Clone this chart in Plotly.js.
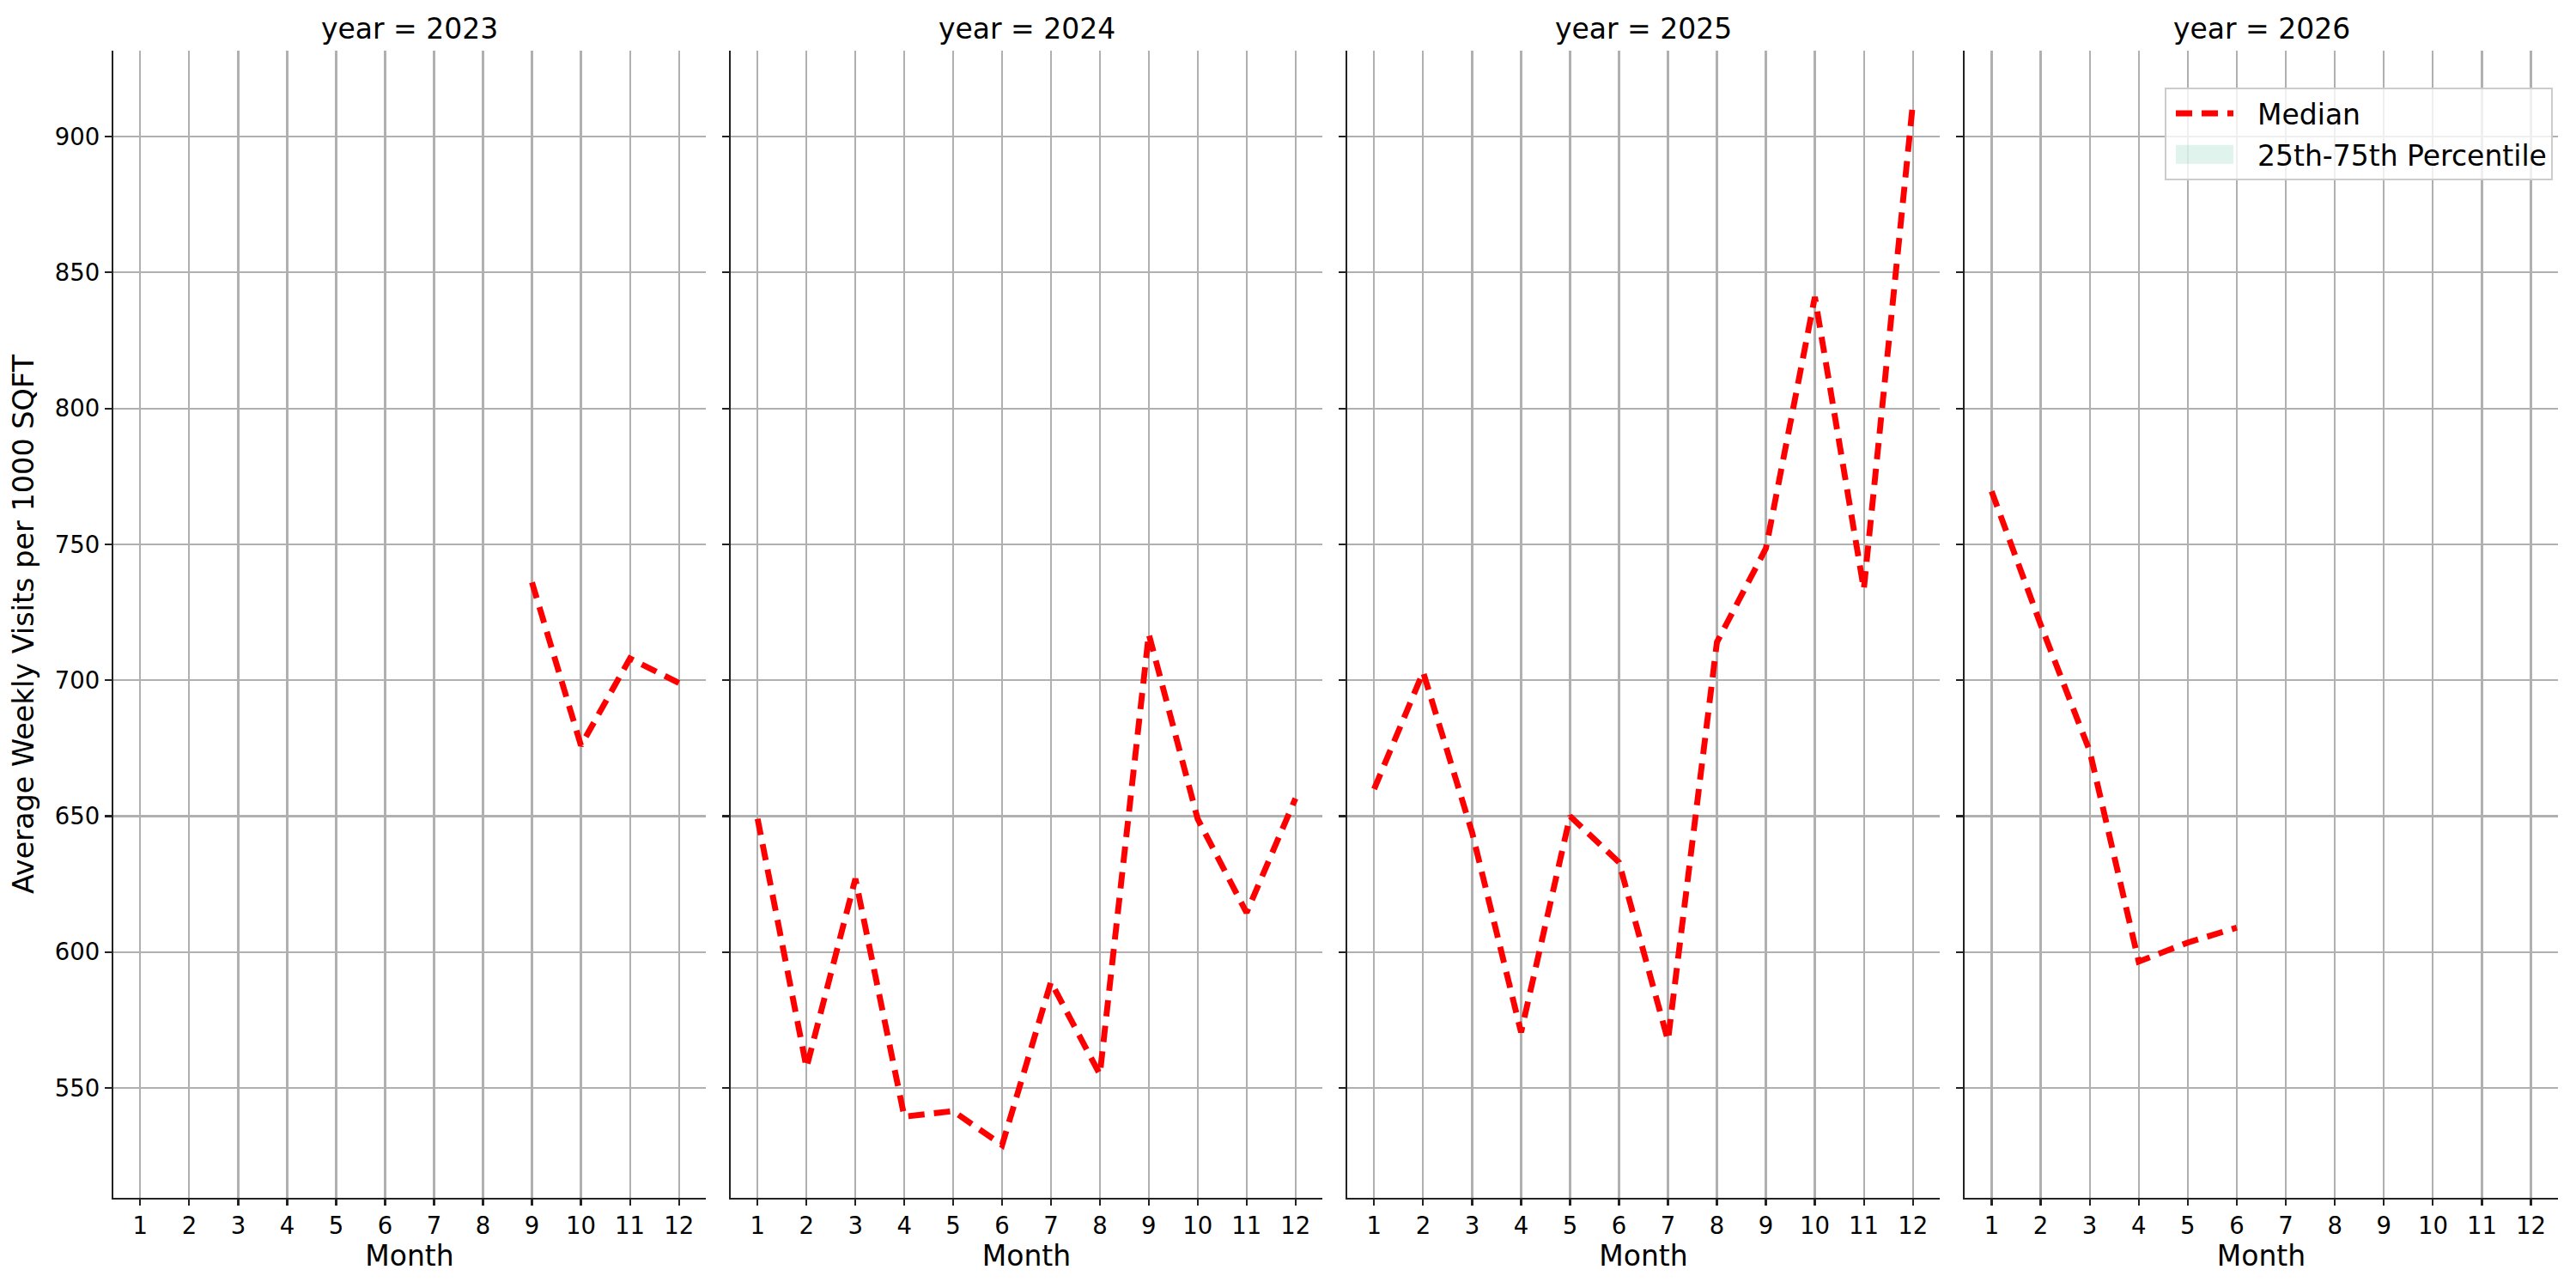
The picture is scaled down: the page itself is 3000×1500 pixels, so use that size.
<!DOCTYPE html>
<html>
<head>
<meta charset="utf-8">
<script src="https://cdn.plot.ly/plotly-3.0.1.min.js"></script>
<style>
html,body{margin:0;padding:0;background:#fff;}
#chart{width:3000px;height:1500px;}
</style>
</head>
<body>
<div id="chart"></div>
<script>
// ---- data ----
const months = [1, 2, 3, 4, 5, 6, 7, 8, 9, 10, 11, 12];
const years = [2023, 2024, 2025, 2026];
const median2023 = [null, null, null, null, null, null, null, null, 736, 676, 708, 699];
const median2024 = [649, 557.5, 627, 539.5, 541.5, 529, 589, 555, 717, 649, 614.5, 656.5];
const median2025 = [660, 703, 644, 570.5, 650, 633, 567.5, 714, 748.5, 841, 733.5, 912];
const median2026 = [769.5, 720.5, 674, 596.5, 603.5, 609, null, null, null, null, null, null];
// percentile band: no band is visible anywhere in the reference (legend entry only)
const p25 = [null, null, null, null, null, null, null, null, null, null, null, null];
const p75 = [null, null, null, null, null, null, null, null, null, null, null, null];
const yTicks = [550, 600, 650, 700, 750, 800, 850, 900];
const seriesName = 'Median';
const bandName = '25th-75th Percentile';
const xTitle = 'Month';
const yTitle = 'Average Weekly Visits per 1000 SQFT';

const medians = [median2023, median2024, median2025, median2026];

const W = 3000, H = 1500;
const panelPx = [[132, 822], [851, 1540], [1569, 2259], [2288, 2979]];
const yDom = [1 - 1395 / H, 1 - 59 / H];

const FONT = 'DejaVu Sans, sans-serif';
const traces = [];
medians.forEach((m, i) => {
  const sfx = i === 0 ? '' : String(i + 1);
  traces.push({
    type: 'scatter', mode: 'lines',
    x: months, y: m,
    xaxis: 'x' + sfx, yaxis: 'y' + sfx,
    name: seriesName,
    legendgroup: 'median',
    showlegend: i === 3,
    legendrank: 1,
    line: {color: '#ff0000', width: 6.9, dash: '19px,11px'},
    connectgaps: false
  });
});
// percentile band (empty in the reference; only its legend entry shows)
traces.push({
  type: 'scatter', mode: 'lines',
  x: months.concat(months.slice().reverse()),
  y: p25.concat(p75.slice().reverse()),
  xaxis: 'x4', yaxis: 'y4',
  fill: 'toself',
  fillcolor: 'rgba(102,194,165,0.2)',
  line: {width: 0, color: 'rgba(102,194,165,0.2)'},
  name: bandName,
  legendgroup: 'band',
  showlegend: true,
  legendrank: 2
});

const layout = {
  width: W, height: H,
  margin: {l: 0, r: 0, t: 0, b: 0},
  paper_bgcolor: '#ffffff',
  plot_bgcolor: '#ffffff',
  font: {family: FONT, size: 27, color: '#000000'},
  showlegend: true,
  legend: {
    x: 2521 / W, y: 1 - 102 / H, xanchor: 'left', yanchor: 'top',
    bgcolor: 'rgba(255,255,255,0.8)',
    bordercolor: '#cccccc', borderwidth: 2,
    font: {family: FONT, size: 33, color: '#000000'},
    itemwidth: 96,
    tracegroupgap: 2,
    itemclick: false, itemdoubleclick: false
  },
  annotations: []
};

years.forEach((yr, i) => {
  const sfx = i === 0 ? '' : String(i + 1);
  const dom = [panelPx[i][0] / W, panelPx[i][1] / W];
  layout['xaxis' + sfx] = {
    domain: dom,
    anchor: 'y' + sfx,
    range: [0.45, 12.55],
    tickmode: 'array', tickvals: months, ticktext: months.map(String),
    showgrid: true, gridcolor: '#b0b0b0', gridwidth: 2.2,
    zeroline: false,
    showline: true, linecolor: '#222222', linewidth: 2.2,
    ticks: 'outside', ticklen: 7, tickwidth: 2.2, tickcolor: '#222222',
    tickfont: {family: FONT, size: 27.5, color: '#000000'},
    title: {text: xTitle, font: {family: FONT, size: 33, color: '#000000'}, standoff: 5},
    fixedrange: true
  };
  layout['yaxis' + sfx] = {
    domain: yDom,
    anchor: 'x' + sfx,
    range: [509.6, 931.6],
    tickmode: 'array', tickvals: yTicks,
    showticklabels: i === 0,
    showgrid: true, gridcolor: '#b0b0b0', gridwidth: 2.2,
    zeroline: false,
    showline: true, linecolor: '#222222', linewidth: 2.2,
    ticks: 'outside', ticklen: 8, tickwidth: 2.2, tickcolor: '#222222',
    tickfont: {family: FONT, size: 27.5, color: '#000000'},
    title: i === 0 ? {text: yTitle, font: {family: FONT, size: 33.5, color: '#000000'}, standoff: 14} : {text: ''},
    fixedrange: true
  };
  if (i > 0) layout['yaxis' + sfx].matches = 'y';
  layout.annotations.push({
    text: 'year = ' + yr,
    xref: 'paper', yref: 'paper',
    x: (dom[0] + dom[1]) / 2, y: yDom[1],
    xanchor: 'center', yanchor: 'bottom',
    yshift: 4,
    showarrow: false,
    font: {family: FONT, size: 33, color: '#000000'}
  });
});

Plotly.newPlot('chart', traces, layout, {staticPlot: true, displayModeBar: false}).then(gd => {
  // widen legend handles to match the reference (styling only)
  gd.querySelectorAll('.legend .legendlines path').forEach(p => p.setAttribute('d', 'M11,0h67'));
  gd.querySelectorAll('.legend .legendfill path').forEach(p => p.setAttribute('d', 'M11,-11h67v22h-67z'));
});
</script>
</body>
</html>
